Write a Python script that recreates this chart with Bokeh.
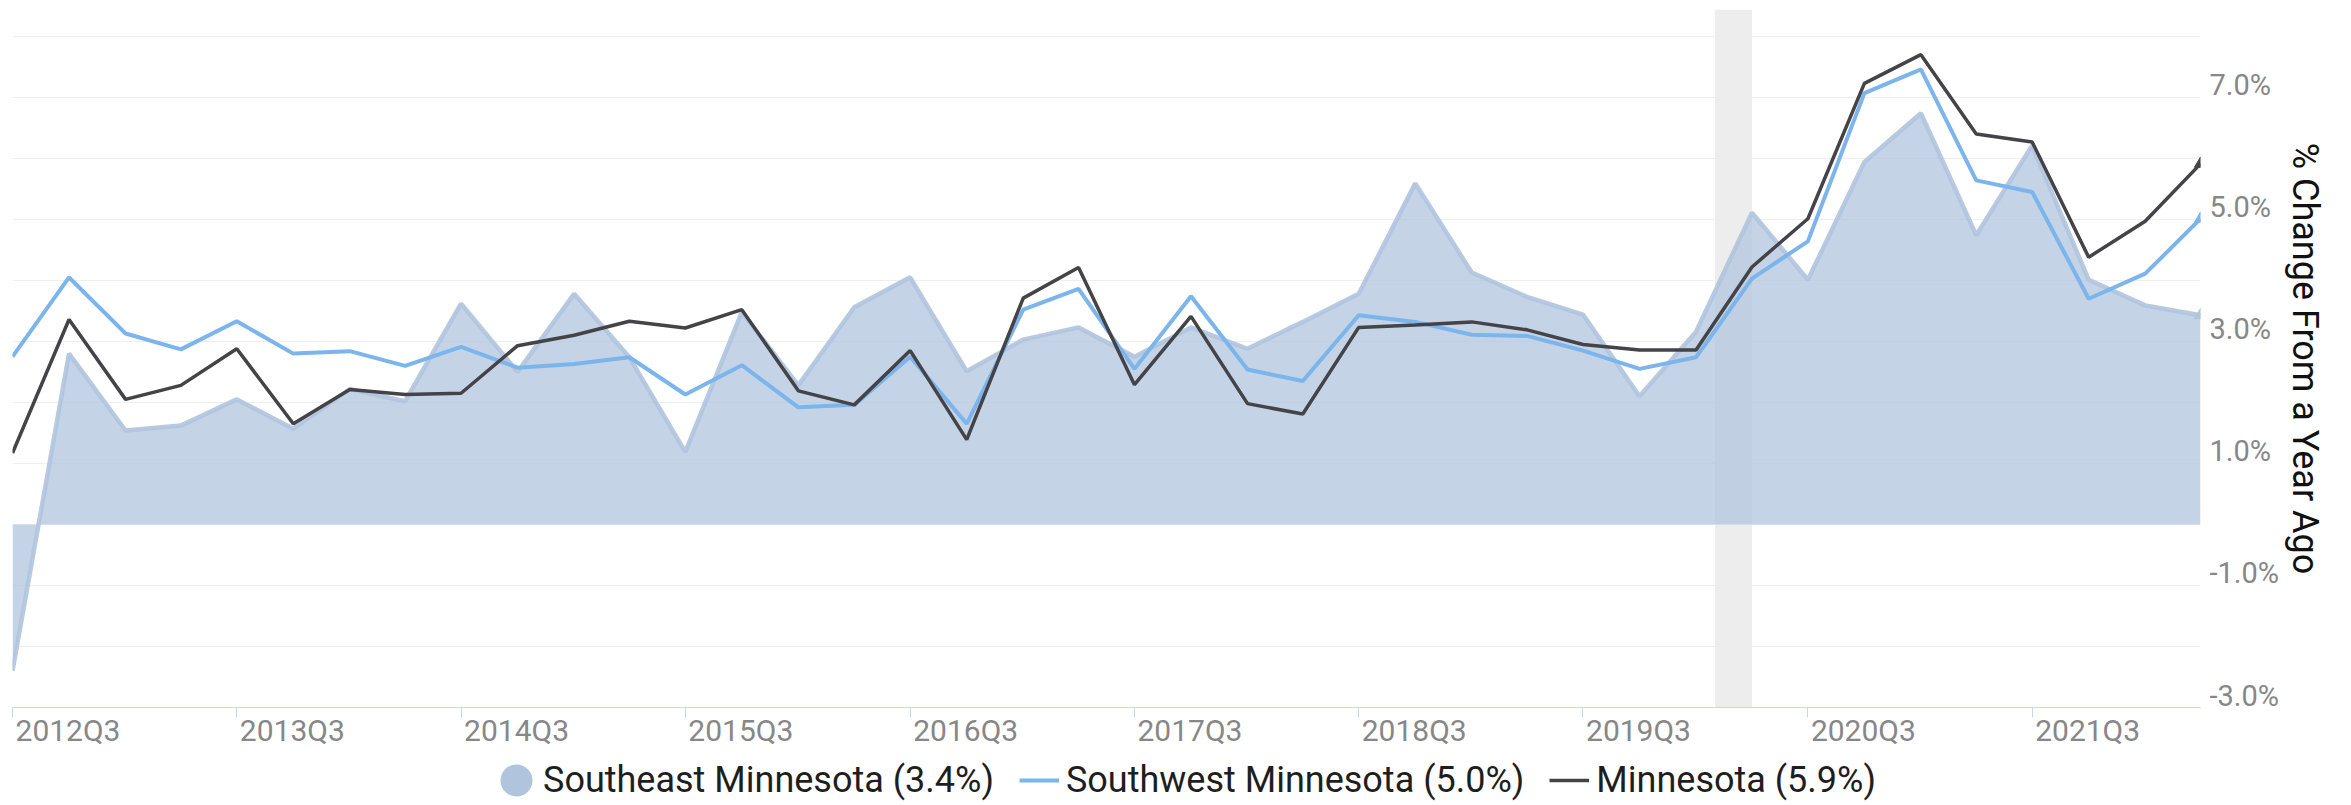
import pandas as pd
from bokeh.plotting import figure
from bokeh.layouts import column
from bokeh.models import (Range1d, LinearAxis, FixedTicker, Grid, BoxAnnotation,
                          Legend, LegendItem, PrintfTickFormatter)
from bokeh.embed import file_html
from bokeh.resources import INLINE

# ---------------- data ----------------
quarters = [str(q) for q in pd.period_range("2012Q3", "2022Q2", freq="Q")]

southeast = [-2.40, 2.80, 1.54, 1.62, 2.05, 1.57, 2.22, 2.02, 3.62, 2.50,
             3.78, 2.74, 1.19, 3.48, 2.28, 3.56, 4.05, 2.51, 3.03, 3.23,
             2.75, 3.23, 2.88, 3.32, 3.78, 5.59, 4.13, 3.73, 3.44, 2.10,
             3.16, 5.11, 4.01, 5.94, 6.74, 4.74, 6.21, 4.01, 3.59, 3.43]

southwest = [2.75, 4.05, 3.13, 2.87, 3.33, 2.80, 2.84, 2.60, 2.91, 2.57,
             2.63, 2.74, 2.13, 2.61, 1.92, 1.96, 2.75, 1.65, 3.52, 3.86,
             2.55, 3.74, 2.54, 2.35, 3.43, 3.32, 3.11, 3.09, 2.85, 2.55,
             2.74, 4.03, 4.64, 7.07, 7.46, 5.64, 5.45, 3.70, 4.11, 5.01]

minnesota = [1.17, 3.36, 2.05, 2.28, 2.88, 1.65, 2.21, 2.13, 2.15, 2.93,
             3.10, 3.33, 3.22, 3.52, 2.19, 1.96, 2.85, 1.39, 3.71, 4.21,
             2.29, 3.41, 1.98, 1.81, 3.23, 3.27, 3.32, 3.19, 2.95, 2.86,
             2.86, 4.22, 5.01, 7.23, 7.70, 6.40, 6.27, 4.38, 4.97, 5.91]

tick_quarters = ["2012Q3", "2013Q3", "2014Q3", "2015Q3", "2016Q3",
                 "2017Q3", "2018Q3", "2019Q3", "2020Q3", "2021Q3"]
y_label_values = [-3, -1, 1, 3, 5, 7]
y_grid_values = [-3, -2, -1, 0, 1, 2, 3, 4, 5, 6, 7, 8]
recession = ["2020-02-01", "2020-04-01"]
legend_labels = ["Southeast Minnesota (3.4%)",
                 "Southwest Minnesota (5.0%)",
                 "Minnesota (5.9%)"]
axis_title = "% Change From a Year Ago"

# ---------------- styling ----------------
C_SE = "#b0c4de"
C_SW = "#7cb5ec"
C_MN = "#434348"
FONT = "Roboto"
TICK_COLOR = "#878787"

FW, FH = 2188, 698
Y0, Y1 = -3.0, 8.44


def ms(ts):
    return int(pd.Timestamp(ts).value // 10**6)


def q_ms(q):
    return int(pd.Period(q, freq="Q").start_time.value // 10**6)


x = [q_ms(q) for q in quarters]
X0, X1 = x[0], x[-1]

dx = 55.5 * (X1 - X0) / FW          # x labels left-aligned at their tick
dy = 12.0 * (Y1 - Y0) / FH          # y labels sit a little above gridline

p = figure(frame_width=FW, frame_height=FH,
           x_range=Range1d(X0, X1), y_range=Range1d(Y0, Y1),
           x_axis_location=None, y_axis_location=None,
           toolbar_location=None, output_backend="svg",
           min_border_left=12, min_border_right=0, min_border_top=9,
           min_border_bottom=0,
           background_fill_color="white", border_fill_color="white",
           outline_line_color=None)

p.center = [r for r in p.center if not isinstance(r, Grid)]

p.extra_x_ranges = {"xlab": Range1d(X0 - dx, X1 - dx)}
p.extra_y_ranges = {"ylab": Range1d(Y0 - dy, Y1 - dy)}

p.add_layout(Grid(dimension=1, ticker=FixedTicker(ticks=y_grid_values),
                  grid_line_color="#efefef", grid_line_width=1))

p.add_layout(BoxAnnotation(left=ms(recession[0]), right=ms(recession[1]),
                           fill_color="#ededed", fill_alpha=1.0,
                           line_color=None, level="underlay"))

p.varea(x=x, y1=0, y2=southeast, fill_color=C_SE, fill_alpha=0.75)
p.line(x, southeast, line_color=C_SE, line_width=4.5, line_alpha=0.9)
p.line(x, southwest, line_color=C_SW, line_width=4)
p.line(x, minnesota, line_color=C_MN, line_width=3.5)

p.scatter([x[-1]], [southeast[-1]], marker="triangle", size=12, color=C_SE)
p.scatter([x[-1]], [southwest[-1]], marker="triangle", size=12, color=C_SW)
p.scatter([x[-1]], [minnesota[-1]], marker="triangle", size=12, color=C_MN)

tick_ms = [q_ms(q) for q in tick_quarters]
xax = LinearAxis(x_range_name="xlab",
                 ticker=FixedTicker(ticks=tick_ms,
                                    minor_ticks=[t - dx for t in tick_ms]),
                 major_label_overrides=dict(zip(tick_ms, tick_quarters)),
                 axis_line_color="#ccd6eb", axis_line_width=1,
                 major_tick_line_color=None, major_tick_out=0, major_tick_in=0,
                 minor_tick_line_color="#ccd6eb", minor_tick_out=10,
                 minor_tick_in=0,
                 major_label_standoff=-5,
                 major_label_text_font=FONT,
                 major_label_text_font_size="30px",
                 major_label_text_color=TICK_COLOR)
p.add_layout(xax, "below")

yax = LinearAxis(y_range_name="ylab",
                 ticker=FixedTicker(ticks=y_label_values),
                 formatter=PrintfTickFormatter(format="%.1f%%"),
                 axis_line_color=None, major_tick_line_color=None,
                 minor_tick_line_color=None, major_tick_out=0, major_tick_in=0,
                 major_label_standoff=9,
                 major_label_text_font=FONT,
                 major_label_text_font_size="29px",
                 major_label_text_color=TICK_COLOR,
                 axis_label=axis_title, axis_label_standoff=2,
                 axis_label_text_font=FONT,
                 axis_label_text_font_size="36px",
                 axis_label_text_font_style="normal",
                 axis_label_text_color="#111111")
p.add_layout(yax, "right")

# ---------------- legend strip (own small figure) ----------------
lg = figure(width=2351, height=52, x_range=Range1d(0, 1), y_range=Range1d(0, 1),
            x_axis_location=None, y_axis_location=None,
            toolbar_location=None, output_backend="svg", min_border=0,
            background_fill_color="white", border_fill_color="white",
            outline_line_color=None)
lg.center = [r for r in lg.center if not isinstance(r, Grid)]

# series glyphs (outside this strip's ranges, so only their legend symbols show)
se_leg = lg.ellipse(x=[x[-1]], y=[southeast[-1]], width=1, height=1,
                    width_units="screen", height_units="screen",
                    fill_color=C_SE, line_color=None)
sw_leg = lg.line(x, southwest, line_color=C_SW, line_width=4)
mn_leg = lg.line(x, minnesota, line_color=C_MN, line_width=3.5)

leg = Legend(items=[LegendItem(label=legend_labels[0], renderers=[se_leg]),
                    LegendItem(label=legend_labels[1], renderers=[sw_leg]),
                    LegendItem(label=legend_labels[2], renderers=[mn_leg])],
             location=(484, 0), orientation="horizontal",
             glyph_width=40, glyph_height=44, label_standoff=7, spacing=25,
             padding=0, margin=0,
             border_line_color=None, background_fill_alpha=0,
             label_text_font=FONT, label_text_font_size="36px",
             label_text_color="#1e1e1e")
lg.add_layout(leg)

open("out.html", "w").write(file_html(column(p, lg), INLINE))
